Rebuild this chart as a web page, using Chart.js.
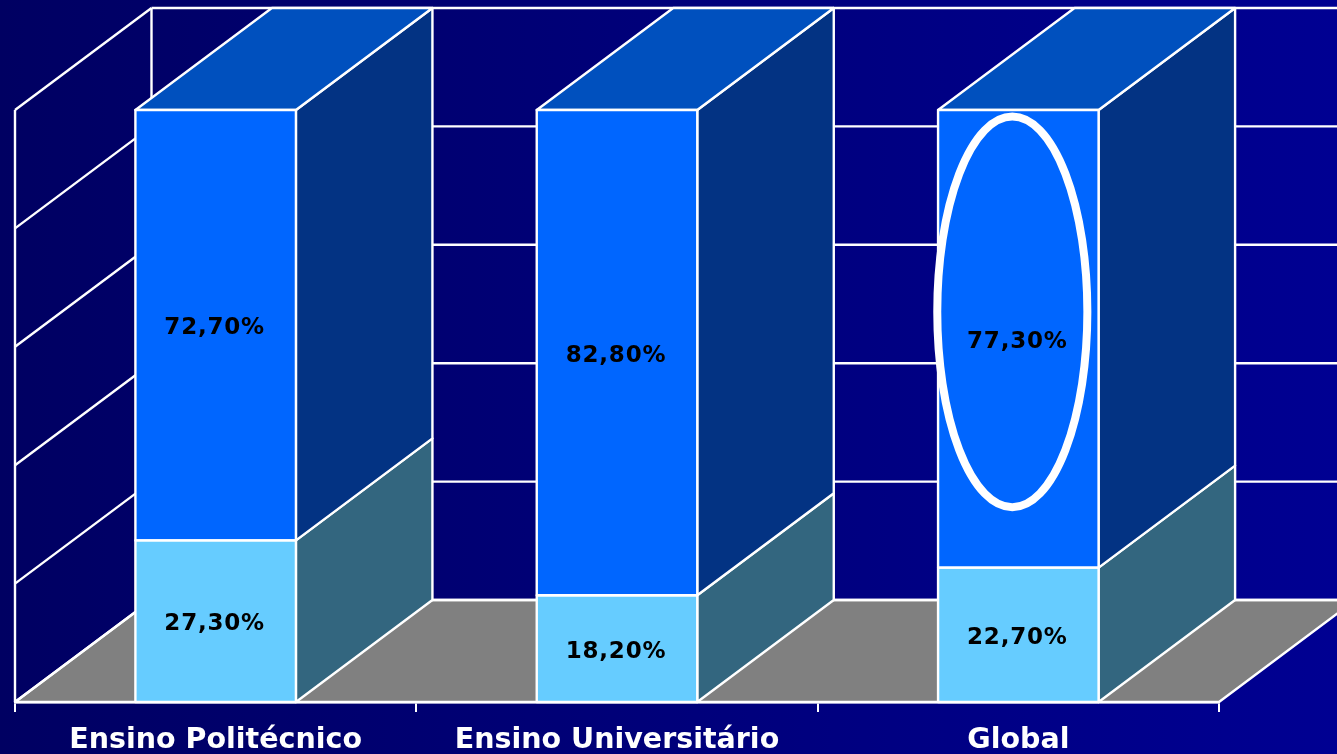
<!DOCTYPE html>
<html><head><meta charset="utf-8">
<style>html,body{margin:0;padding:0;background:#000080;overflow:hidden}canvas{display:block}</style>
<script src="https://cdn.jsdelivr.net/npm/chart.js@4/dist/chart.umd.min.js"></script>
</head><body>
<div style="position:relative;width:1337px;height:754px"><canvas id="c"></canvas></div>
<script>
const categories = ['Ensino Politécnico', 'Ensino Universitário', 'Global'];
const lowerSeries = [27.3, 18.2, 22.7];
const upperSeries = [72.7, 82.8, 77.3];
const yTicks = [0, 20, 40, 60, 80, 100];

// The reference is a 100% stacked chart: each column is scaled to its own total.
const totals = categories.map((_, i) => lowerSeries[i] + upperSeries[i]);
const share = arr => arr.map((v, i) => v / totals[i] * 100);
const rawSeries = [lowerSeries, upperSeries];

const DX = 136.5, DY = -102, LW = 2.4;
const WHITE = '#ffffff';
const faceColors = [
  { side: '#33667f' },
  { side: '#033383', top: '#0050be' }
];

function poly(ctx, pts, fill, stroke) {
  ctx.beginPath();
  pts.forEach((p, i) => i ? ctx.lineTo(p[0], p[1]) : ctx.moveTo(p[0], p[1]));
  ctx.closePath();
  if (fill) { ctx.fillStyle = fill; ctx.fill(); }
  if (stroke) { ctx.strokeStyle = WHITE; ctx.lineWidth = LW; ctx.stroke(); }
}
function line(ctx, a, b) {
  ctx.beginPath(); ctx.moveTo(a[0], a[1]); ctx.lineTo(b[0], b[1]);
  ctx.strokeStyle = WHITE; ctx.lineWidth = LW; ctx.stroke();
}

const scene3d = {
  id: 'scene3d',
  beforeDraw(chart) {
    const { ctx, width, height } = chart;
    const g = ctx.createLinearGradient(0, 0, width, 0);
    g.addColorStop(0, '#000062');
    g.addColorStop(1, '#000092');
    ctx.fillStyle = g;
    ctx.fillRect(0, 0, width, height);
  },
  beforeDatasetsDraw(chart) {
    const { ctx, chartArea: a, scales: { y } } = chart;
    ctx.save();
    ctx.lineJoin = 'round';
    poly(ctx, [[a.left, a.bottom], [a.left + DX, a.bottom + DY], [a.right + DX, a.bottom + DY], [a.right, a.bottom]], '#808080', true);
    yTicks.forEach(t => {
      const py = y.getPixelForValue(t);
      line(ctx, [a.left, py], [a.left + DX, py + DY]);
      line(ctx, [a.left + DX, py + DY], [a.right + DX, py + DY]);
    });
    line(ctx, [a.left, y.getPixelForValue(100)], [a.left, a.bottom]);
    line(ctx, [a.left + DX, y.getPixelForValue(100) + DY], [a.left + DX, a.bottom + DY]);
    chart.data.datasets.forEach((ds, di) => {
      chart.getDatasetMeta(di).data.forEach(bar => {
        const r = bar.x + bar.width / 2, l = bar.x - bar.width / 2;
        poly(ctx, [[r, bar.base], [r, bar.y], [r + DX, bar.y + DY], [r + DX, bar.base + DY]], faceColors[di].side, true);
        if (faceColors[di].top) {
          poly(ctx, [[l, bar.y], [r, bar.y], [r + DX, bar.y + DY], [l + DX, bar.y + DY]], faceColors[di].top, true);
        }
      });
    });
    ctx.restore();
  },
  afterDatasetsDraw(chart) {
    const { ctx, scales: { x, y } } = chart;
    ctx.save();
    ctx.lineJoin = 'round';
    // one crisp outline per front face
    chart.data.datasets.forEach((ds, di) => {
      chart.getDatasetMeta(di).data.forEach(bar => {
        ctx.strokeStyle = WHITE; ctx.lineWidth = LW;
        ctx.strokeRect(bar.x - bar.width / 2, bar.y, bar.width, bar.base - bar.y);
      });
    });
    // highlight ellipse round the Global upper segment
    const cx = x.getPixelForValue(2 - 0.015);
    const cy = y.getPixelForValue(65.9);
    const rx = x.width / 3 * 0.187, ry = Math.abs(y.getPixelForValue(33.0) - y.getPixelForValue(0));
    ctx.beginPath();
    ctx.ellipse(cx, cy, rx, ry, 0, 0, Math.PI * 2);
    ctx.strokeStyle = WHITE; ctx.lineWidth = 8; ctx.stroke();
    // value labels
    ctx.fillStyle = '#000000';
    ctx.font = 'bold 23px "DejaVu Sans"';
    ctx.letterSpacing = '0.8px';
    ctx.textAlign = 'center';
    ctx.textBaseline = 'middle';
    chart.data.datasets.forEach((ds, di) => {
      chart.getDatasetMeta(di).data.forEach((bar, i) => {
        const s = rawSeries[di][i].toFixed(2).replace('.', ',') + '%';
        ctx.fillText(s, bar.x - 1, (bar.y + bar.base) / 2 + 3);
      });
    });
    ctx.restore();
  }
};

new Chart(document.getElementById('c'), {
  type: 'bar',
  data: {
    labels: categories,
    datasets: [
      { data: share(lowerSeries), backgroundColor: '#66ccff', borderWidth: 0, clip: false },
      { data: share(upperSeries), backgroundColor: '#0066ff', borderWidth: 0, clip: false }
    ]
  },
  plugins: [scene3d],
  options: {
    responsive: true,
    maintainAspectRatio: false,
    animation: false,
    layout: { padding: { left: 15, right: 118, top: 110, bottom: 0 } },
    plugins: { legend: { display: false }, tooltip: { enabled: false } },
    datasets: { bar: { barPercentage: 0.4, categoryPercentage: 1 } },
    scales: {
      x: {
        stacked: true,
        z: 1,
        afterFit(s) { s.height = 52; },
        border: { color: WHITE, width: 2.4 },
        grid: { drawOnChartArea: false, drawTicks: true, tickLength: 10, color: WHITE, lineWidth: 2 },
        ticks: { color: WHITE, padding: 11, maxRotation: 0, autoSkip: false, font: { family: '"DejaVu Sans"', weight: 'bold', size: 28.5 } }
      },
      y: {
        stacked: true, min: 0, max: 100,
        afterFit(s) { s.width = 0; },
        afterBuildTicks(s) { s.ticks = yTicks.map(v => ({ value: v })); },
        border: { display: false },
        grid: { display: false },
        ticks: { display: false }
      }
    }
  }
});
</script>
</body></html>
